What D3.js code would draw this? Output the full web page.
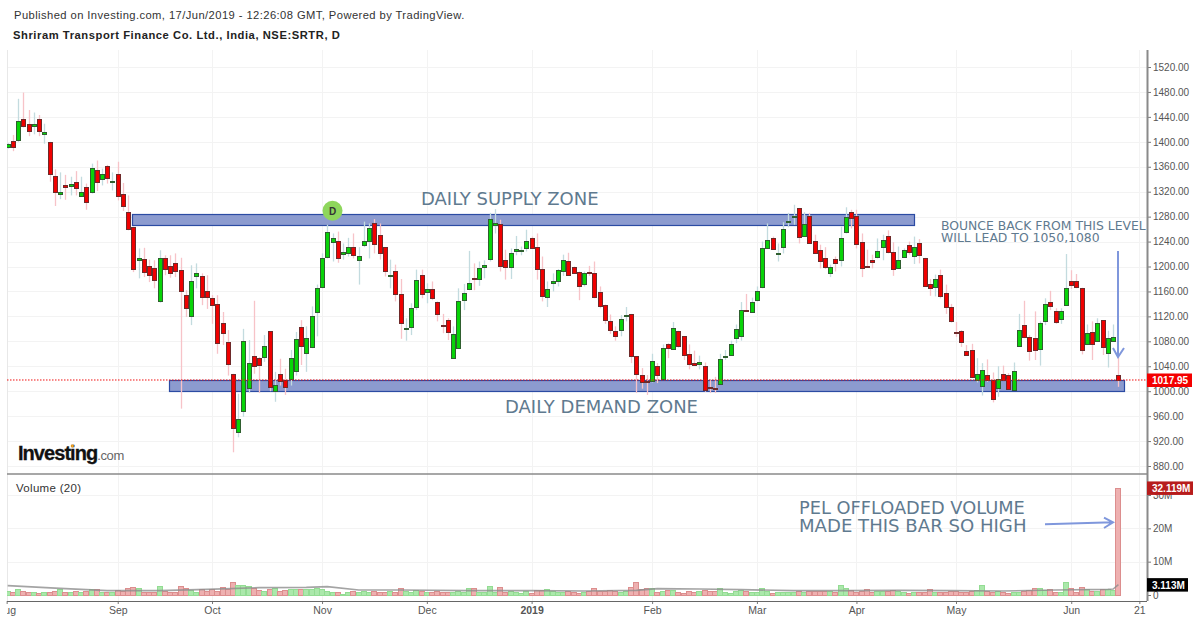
<!DOCTYPE html>
<html>
<head>
<meta charset="utf-8">
<script src="https://cdnjs.cloudflare.com/ajax/libs/d3/7.8.5/d3.min.js"></script>
<style>
html, body { margin: 0; padding: 0; background: #fff; }
svg { display: block; }
text { font-family: "Liberation Sans", Arial, sans-serif; }
.note { font-family: "DejaVu Sans", Verdana, sans-serif; fill: #5f7a8f; }
</style>
</head>
<body>
<script>
// Daily candles
const opens = [1391,1401,1404,1437,1428,1424,1436,1413,1400,1345,
1317,1330,1329,1335,1313,1327,1320,1355,1341,1362,
1335,1349,1316,1287,1264,1210,1212,1201,1198,1145,
1214,1201,1205,1194,1155,1121,1185,1184,1161,1150,
1140,1110,1079,1028,934,967,1006,1056,1053,1055,
1096,1001,1028,1018,1019,1032,1103,1061,1070,1128,
1168,1215,1240,1241,1221,1222,1231,1211,1234,1240,
1269,1250,1231,1185,1193,1156,1100,1103,1135,1187,
1159,1164,1143,1106,1114,1053,1070,1145,1164,1181,
1180,1198,1212,1266,1268,1210,1199,1225,1225,1230,
1246,1231,1196,1151,1174,1177,1194,1209,1199,1191,
1171,1191,1189,1159,1139,1112,1097,1098,1121,1124,
1056,1026,1017,1016,1040,1020,1075,1068,1096,1088,
1059,1046,1043,1041,1006,1005,1011,1055,1058,1086,
1090,1131,1127,1145,1166,1229,1246,1220,1231,1271,
1280,1294,1249,1281,1241,1226,1214,1191,1212,1210,
1255,1287,1281,1239,1201,1211,1215,1231,1249,1224,
1198,1215,1234,1216,1237,1214,1172,1167,1186,1158,
1135,1095,1097,1065,1066,1018,1009,1026,1018,1005,
1027,1026,1002,1072,1106,1087,1085,1068,1113,1143,
1128,1115,1138,1176,1176,1166,1075,1095,1081,1114,
1061,1081,1026];
const highs = [1398,1411,1469,1479,1451,1447,1443,1429,1400,1356,
1351,1347,1344,1353,1344,1333,1365,1370,1357,1363,
1351,1368,1334,1314,1264,1229,1230,1211,1210,1226,
1218,1218,1221,1214,1162,1202,1205,1189,1186,1154,
1154,1127,1098,1028,996,1100,1082,1145,1055,1090,
1096,1031,1052,1036,1066,1095,1114,1104,1136,1171,
1221,1267,1253,1256,1237,1246,1253,1231,1272,1269,
1276,1269,1231,1211,1203,1180,1117,1141,1195,1195,
1173,1176,1144,1124,1117,1104,1165,1172,1225,1205,
1208,1210,1286,1292,1275,1227,1229,1249,1232,1259,
1248,1253,1216,1176,1189,1196,1219,1222,1200,1192,
1192,1201,1208,1168,1139,1123,1104,1122,1135,1124,
1056,1037,1026,1060,1045,1075,1077,1111,1097,1088,
1075,1065,1057,1046,1018,1023,1060,1066,1081,1107,
1143,1156,1150,1168,1240,1269,1248,1237,1271,1286,
1299,1294,1287,1286,1251,1235,1231,1203,1216,1264,
1295,1291,1291,1253,1227,1219,1245,1251,1258,1239,
1232,1229,1240,1248,1244,1214,1180,1187,1195,1171,
1140,1111,1098,1074,1076,1053,1045,1051,1030,1040,
1041,1029,1046,1124,1145,1090,1128,1112,1149,1161,
1133,1133,1220,1194,1188,1166,1107,1112,1117,1114,
1097,1107,1055];
const lows = [1389,1385,1400,1423,1409,1412,1409,1397,1336,1297,
1308,1307,1314,1314,1313,1291,1317,1321,1330,1333,
1322,1306,1289,1258,1191,1181,1183,1175,1165,1142,
1186,1182,1183,972,1119,1106,1165,1138,1132,1108,
1060,1074,1025,902,926,959,997,1028,997,1047,
1000,983,1009,994,1009,1025,1042,1031,1069,1088,
1165,1213,1208,1206,1211,1216,1213,1171,1231,1213,
1221,1211,1184,1165,1144,1084,1081,1090,1130,1149,
1141,1146,1112,1093,1082,1053,1070,1130,1162,1162,
1169,1181,1208,1253,1192,1179,1180,1218,1218,1224,
1229,1179,1144,1135,1160,1168,1185,1187,1188,1146,
1168,1185,1149,1133,1108,1092,1081,1088,1112,1045,
997,1004,994,1014,1013,1018,1053,1067,1070,1050,
1035,1042,1035,999,997,997,1010,1050,1057,1077,
1081,1128,1126,1144,1165,1228,1228,1208,1221,1263,
1267,1237,1248,1237,1221,1197,1196,1183,1192,1200,
1253,1261,1229,1183,1199,1197,1213,1210,1221,1185,
1197,1215,1219,1204,1205,1168,1153,1152,1149,1124,
1110,1087,1071,1058,1021,1014,993,1015,982,991,
1017,1002,1002,1072,1085,1049,1050,1041,1106,1130,
1108,1108,1137,1164,1165,1059,1074,1050,1080,1058,
1038,1080,1007];
const closes = [1396,1392,1434,1425,1416,1428,1416,1416,1349,1320,
1320,1326,1332,1326,1320,1303,1358,1336,1349,1342,
1337,1314,1297,1259,1197,1214,1191,1186,1178,1214,
1197,1190,1192,1161,1134,1177,1190,1150,1151,1138,
1078,1094,1043,941,955,1080,1046,1040,1042,1072,
1006,1010,1017,1006,1053,1084,1072,1085,1120,1166,
1214,1255,1246,1213,1224,1231,1218,1217,1241,1261,
1236,1221,1192,1186,1156,1110,1102,1134,1179,1156,
1164,1150,1124,1105,1094,1092,1145,1157,1173,1179,
1197,1202,1276,1269,1201,1199,1221,1228,1226,1241,
1230,1196,1153,1164,1177,1194,1211,1187,1190,1169,
1189,1189,1150,1136,1115,1097,1089,1115,1122,1057,
1027,1014,1016,1048,1026,1069,1069,1102,1072,1057,
1043,1042,1047,1002,1004,1003,1051,1056,1075,1100,
1131,1129,1143,1160,1229,1242,1229,1221,1260,1273,
1281,1247,1268,1238,1222,1208,1199,1200,1205,1246,
1279,1278,1236,1198,1199,1208,1225,1242,1224,1197,
1211,1227,1222,1231,1217,1169,1166,1180,1153,1136,
1112,1093,1080,1059,1023,1027,1034,1018,988,1019,
1018,1003,1033,1098,1086,1065,1065,1109,1140,1137,
1110,1128,1165,1169,1166,1066,1093,1076,1110,1070,
1085,1087,1017.95];
// Volume in millions
const volumes = [1.3,0.8,1.7,1.3,0.8,0.8,0.5,1.0,1.0,1.3,
1.7,0.8,1.0,1.3,0.8,1.3,1.7,1.7,1.0,0.8,
1.0,1.4,1.2,2.0,2.3,2.0,0.8,1.0,1.0,2.6,
1.2,0.8,0.8,2.6,2.0,1.5,0.8,1.7,1.3,1.8,
1.3,2.3,1.7,3.8,3.1,3.1,2.7,2.0,1.5,1.3,
1.7,2.2,1.2,1.5,1.7,1.7,1.8,1.8,1.8,2.2,
1.8,1.2,0.8,0.8,0.3,0.8,1.1,1.0,1.3,1.0,
1.3,1.0,0.8,1.1,1.0,2.0,1.2,1.0,1.5,1.2,
1.0,1.0,1.2,1.0,0.8,0.8,1.1,0.9,2.0,2.0,
0.8,1.0,2.6,1.0,2.3,1.0,1.3,0.9,0.5,1.3,
0.5,1.5,1.5,1.8,1.2,0.9,0.9,1.1,0.9,0.6,
1.0,1.3,2.1,1.1,1.1,1.5,1.2,1.0,1.1,2.3,
3.8,1.7,2.0,2.0,0.9,1.1,1.5,1.5,0.8,0.6,
1.3,1.0,1.1,1.5,1.1,1.1,2.0,1.0,0.6,1.1,
1.5,1.3,0.9,0.9,2.0,1.1,0.5,0.9,0.9,0.9,
0.9,1.3,1.0,1.3,1.1,1.2,1.2,1.1,0.9,3.1,
2.0,1.4,1.0,1.2,1.7,0.8,1.1,1.1,1.1,1.4,
1.1,0.8,0.5,0.8,0.9,0.9,1.7,0.9,0.8,0.9,
1.1,1.1,1.0,1.0,1.1,1.4,3.1,1.2,1.0,1.2,
1.0,0.6,1.0,1.0,1.2,1.4,2.0,2.0,1.5,1.7,
0.9,0.9,3.8,2.0,1.0,2.3,1.8,1.3,1.3,1.8,
1.8,1.5,32.119];
// Volume MA(20), read at a few bars along the line
const maBars = [0,10,19,29,38,48,57,61,67,75,88,100,110,120,124,132,140,150,160,170,180,190,200,210,211,212];
const maValues = [2.8,2.0,1.3,1.3,1.7,2.2,2.3,2.5,1.5,1.5,1.3,1.3,1.2,1.4,1.9,1.8,1.6,1.3,1.3,1.4,1.3,1.2,1.5,1.7,1.8,3.113];

const priceTicks = d3.range(880, 1521, 40);
const volumeTicks = [0, 10, 20, 30];
const monthBars = [-0.2, 21, 39, 60, 80, 100, 123, 143, 162, 181, 203, 216];
const monthLabels = ["Aug","Sep","Oct","Nov","Dec","2019","Feb","Mar","Apr","May","Jun","21"];
const lastPrice = 1017.95;
const lastVolume = 32.119;
const supplyZone = {from: 23.7, to: 173, top: 1284, bottom: 1267};
const demandZone = {from: 30.8, to: 213, top: 1017.5, bottom: 1000.3};

const W = 1200, H = 622;
const paneLeft = 7, paneRight = 1147, paneTop = 50, split = 474, paneBottom = 601;

const x = d3.scaleLinear().domain([0, 212]).range([7.7, 1118.4]);
const y = d3.scaleLinear().domain([880, 1520]).range([466, 67]);
const yVol = d3.scaleLinear().domain([0, 30]).range([595, 495]);

const svg = d3.select("body").append("svg").attr("width", W).attr("height", H);

svg.append("defs").append("clipPath").attr("id", "pane")
   .append("rect").attr("x", paneLeft).attr("y", paneTop).attr("width", paneRight - paneLeft).attr("height", paneBottom - paneTop);

// header
svg.append("text").attr("x", 14).attr("y", 19).attr("font-size", 11.2).attr("fill", "#333")
   .attr("letter-spacing", 0.425)
   .text("Published on Investing.com, 17/Jun/2019 - 12:26:08 GMT, Powered by TradingView.");
svg.append("text").attr("x", 13).attr("y", 39).attr("font-size", 11.2).attr("font-weight", "bold").attr("fill", "#222")
   .attr("letter-spacing", 0.56)
   .text("Shriram Transport Finance Co. Ltd., India, NSE:SRTR, D");

// grid
const grid = svg.append("g").attr("stroke", "#f3f3f3").attr("fill", "none");
monthBars.forEach(b => {
  const px = Math.round(x(b)) + 0.5;
  if (px > paneLeft + 2) grid.append("line").attr("x1", px).attr("x2", px).attr("y1", paneTop).attr("y2", paneBottom);
});
priceTicks.forEach(t => {
  const py = Math.round(y(t)) + 0.5;
  grid.append("line").attr("x1", paneLeft).attr("x2", paneRight).attr("y1", py).attr("y2", py);
});
volumeTicks.slice(1).forEach(t => {
  const py = Math.round(yVol(t)) + 0.5;
  grid.append("line").attr("x1", paneLeft).attr("x2", paneRight).attr("y1", py).attr("y2", py);
});
grid.append("line").attr("x1", paneLeft + 0.5).attr("x2", paneLeft + 0.5).attr("y1", paneTop).attr("y2", paneBottom).attr("stroke", "#e8e8e8");

// zones go under the candles
[supplyZone, demandZone].forEach(z => {
  svg.append("rect")
     .attr("x", Math.round(x(z.from)) + 0.5).attr("y", Math.round(y(z.top)) + 0.5)
     .attr("width", Math.round(x(z.to) - x(z.from))).attr("height", Math.round(y(z.bottom) - y(z.top)))
     .attr("fill", "#8c9bcf").attr("stroke", "#2b4ba3").attr("stroke-width", 1.2);
});

const bars = d3.range(opens.length);
const isUp = i => closes[i] >= opens[i];

const candles = svg.append("g").attr("clip-path", "url(#pane)");
candles.selectAll("line.wick").data(bars).join("line")
   .attr("class", "wick")
   .attr("x1", i => Math.round(x(i)) + 0.5).attr("x2", i => Math.round(x(i)) + 0.5)
   .attr("y1", i => y(highs[i])).attr("y2", i => y(lows[i]))
   .attr("stroke-width", 1.3)
   .attr("stroke", i => isUp(i) ? "#c3dbdf" : "#f7c3c8");
candles.selectAll("rect.body").data(bars).join("rect")
   .attr("class", "body")
   .attr("x", i => Math.round(x(i)) - 1.5).attr("width", 4)
   .attr("y", i => Math.round(y(Math.max(opens[i], closes[i]))) + 0.5)
   .attr("height", i => Math.max(1, Math.round(Math.abs(y(opens[i]) - y(closes[i])))))
   .attr("fill", i => isUp(i) ? "#08d408" : "#f00000")
   .attr("stroke", i => isUp(i) ? "#2f5f2f" : "#6e2a2a");

// last price line
svg.append("line").attr("x1", paneLeft).attr("x2", paneRight).attr("y1", y(lastPrice)).attr("y2", y(lastPrice))
   .attr("stroke", "#f01010").attr("stroke-dasharray", "1.5,1.5");

// volume pane
const vol = svg.append("g").attr("clip-path", "url(#pane)");
vol.selectAll("rect").data(bars).join("rect")
   .attr("x", i => Math.round(x(i)) - 2.5).attr("width", 5)
   .attr("y", i => Math.round(yVol(volumes[i])) + 0.5)
   .attr("height", i => Math.max(1, Math.round(yVol(0) - yVol(volumes[i]))))
   .attr("fill", i => isUp(i) ? "#abe8ab" : "#eeb0b0")
   .attr("stroke", i => isUp(i) ? "#93dc93" : "#dc8e8e");
const maLine = d3.line().x((d, k) => x(maBars[k])).y(d => yVol(d));
vol.append("path").attr("d", maLine(maValues)).attr("fill", "none")
   .attr("stroke", "#8d8d8d").attr("stroke-opacity", 0.8).attr("stroke-width", 1.6);

svg.append("text").attr("x", 16).attr("y", 492).attr("font-size", 11.5).attr("fill", "#333")
   .attr("letter-spacing", 0.3).text("Volume (20)");

// frame lines
svg.append("line").attr("x1", paneLeft).attr("x2", paneRight).attr("y1", split).attr("y2", split)
   .attr("stroke", "#8a8a8a").attr("stroke-width", 1.6);

// axes
const axisR = svg.append("g").attr("transform", `translate(${paneRight},0)`)
   .call(d3.axisRight(y).tickValues(priceTicks).tickFormat(d => d.toFixed(2)).tickSize(4).tickPadding(2));
const axisV = svg.append("g").attr("transform", `translate(${paneRight},0)`)
   .call(d3.axisRight(yVol).tickValues(volumeTicks).tickFormat(d => d ? d + "M" : "0").tickSize(4).tickPadding(2));
const axisB = svg.append("g").attr("transform", `translate(0,${paneBottom})`)
   .call(d3.axisBottom(x).tickValues(monthBars).tickFormat((d, i) => monthLabels[i]).tickSize(3).tickPadding(3));
[axisR, axisV, axisB].forEach(a => {
  a.select(".domain").remove();
  a.selectAll("line").attr("stroke", "#777");
  a.selectAll("text").attr("font-size", 10).attr("fill", "#555").attr("font-family", "'Liberation Sans', Arial, sans-serif");
});
axisB.selectAll("text").attr("font-size", 10.5).attr("font-weight", d => d === 100 ? "bold" : "normal");
svg.select("defs").append("clipPath").attr("id", "pane-left")
   .append("rect").attr("x", paneLeft).attr("y", paneBottom).attr("width", 40).attr("height", 21);
axisB.selectAll(".tick").filter(d => d < 0).select("text").each(function () {
  // the first month label is cut by the left edge of the pane
  const t = d3.select(this), label = t.text();
  t.remove();
  svg.append("text").attr("clip-path", "url(#pane-left)").attr("x", x(monthBars[0])).attr("y", paneBottom + 13)
     .attr("text-anchor", "middle").attr("font-size", 10.5).attr("fill", "#555").text(label);
});

svg.append("line").attr("x1", paneRight + 0.5).attr("x2", paneRight + 0.5).attr("y1", paneTop).attr("y2", paneBottom)
   .attr("stroke", "#8a8a8a").attr("stroke-width", 2);
svg.append("line").attr("x1", paneLeft).attr("x2", paneRight).attr("y1", paneBottom + 0.5).attr("y2", paneBottom + 0.5)
   .attr("stroke", "#666").attr("stroke-width", 1.2);

// value flags on the right
function flag(yc, w, fill, label) {
  svg.append("rect").attr("x", paneRight).attr("y", yc - 6.5).attr("width", w).attr("height", 13.5).attr("fill", fill);
  svg.append("text").attr("x", paneRight + 5).attr("y", yc + 4).attr("font-size", 10).attr("font-weight", "bold")
     .attr("fill", "#fff").text(label);
}
flag(y(lastPrice), 45, "#f40000", lastPrice.toFixed(2));
flag(yVol(lastVolume), 46, "#b71c1c", lastVolume.toFixed(3) + "M");
flag(yVol(3.113), 41, "#000", "3.113M");

// drawings
svg.append("text").attr("class", "note").attr("x", 421).attr("y", 205).attr("font-size", 18).text("DAILY SUPPLY ZONE");
svg.append("text").attr("class", "note").attr("x", 505).attr("y", 413).attr("font-size", 18).text("DAILY DEMAND ZONE");
svg.append("text").attr("class", "note").attr("x", 941).attr("y", 229.5).attr("font-size", 12.4).text("BOUNCE BACK FROM THIS LEVEL");
svg.append("text").attr("class", "note").attr("x", 941).attr("y", 242).attr("font-size", 12.4).text("WILL LEAD TO 1050,1080");
svg.append("text").attr("class", "note").attr("x", 799).attr("y", 514).attr("font-size", 17.8).text("PEL OFFLOADED VOLUME");
svg.append("text").attr("class", "note").attr("x", 799).attr("y", 532).attr("font-size", 18.1).text("MADE THIS BAR SO HIGH");

const arrows = svg.append("g").attr("fill", "none").attr("stroke", "#7f97dc").attr("stroke-width", 2);
arrows.append("path").attr("d", "M1118,251V357M1113,348L1118,357L1124,348");
arrows.append("path").attr("d", "M1045,524.3L1113,522.3M1104,517.7L1113,522.3L1104,528");

svg.append("circle").attr("cx", 332.5).attr("cy", 210.7).attr("r", 10).attr("fill", "#8ed65c");
svg.append("text").attr("x", 332.5).attr("y", 214.5).attr("text-anchor", "middle").attr("font-size", 10)
   .attr("font-weight", "bold").attr("fill", "#333").text("D");

// logo
const logo = svg.append("text").attr("x", 18).attr("y", 460).attr("font-size", 20).attr("font-weight", "bold")
   .attr("fill", "#111").attr("letter-spacing", -0.95);
logo.append("tspan").attr("stroke", "#111").attr("stroke-width", 0.3).text("Investing");
logo.append("tspan").attr("font-weight", "normal").attr("font-size", 13).attr("fill", "#666").attr("letter-spacing", -0.4).text(".com");
svg.append("circle").attr("cx", 72.5).attr("cy", 446).attr("r", 1.4).attr("fill", "#f5a623");
</script>
</body>
</html>
